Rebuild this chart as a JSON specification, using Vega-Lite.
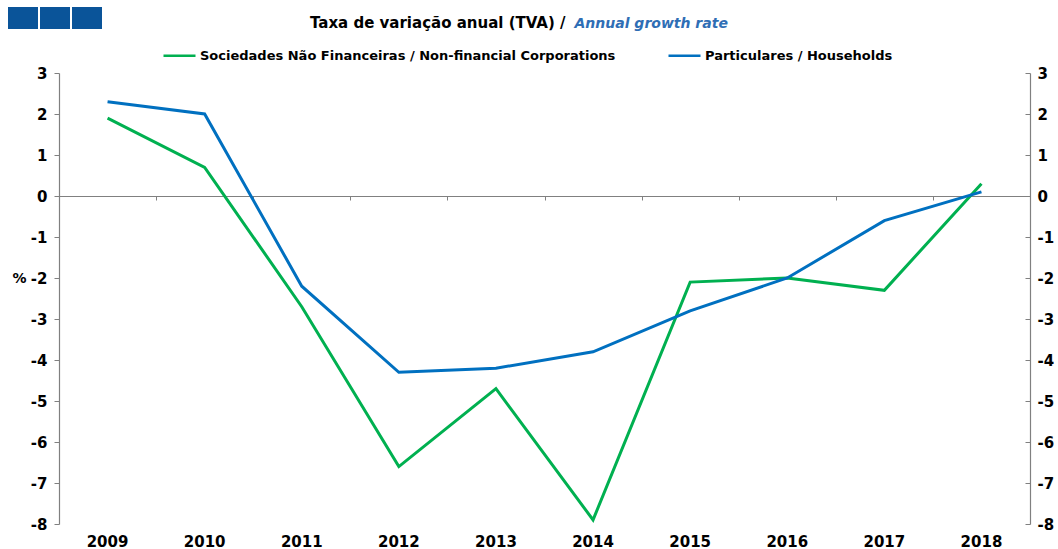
{
  "$schema": "https://vega.github.io/schema/vega-lite/v6.json",
  "width": 971,
  "height": 451,
  "autosize": {"type": "none"},
  "padding": {"left": 59, "top": 73, "right": 28, "bottom": 25},
  "background": "white",
  "config": {"view": {"stroke": null}, "font": "DejaVu Sans"},
  "title": {
    "text": "Taxa de variação anual (TVA) /",
    "anchor": "start",
    "frame": "group",
    "dx": 251,
    "dy": 32,
    "font": "DejaVu Sans",
    "fontSize": 15,
    "fontWeight": "bold",
    "color": "black"
  },
  "data": {
    "values": [
      {"year": "2009", "series": "Sociedades Não Financeiras / Non-financial Corporations", "value": 1.9},
      {"year": "2010", "series": "Sociedades Não Financeiras / Non-financial Corporations", "value": 0.7},
      {"year": "2011", "series": "Sociedades Não Financeiras / Non-financial Corporations", "value": -2.7},
      {"year": "2012", "series": "Sociedades Não Financeiras / Non-financial Corporations", "value": -6.6},
      {"year": "2013", "series": "Sociedades Não Financeiras / Non-financial Corporations", "value": -4.7},
      {"year": "2014", "series": "Sociedades Não Financeiras / Non-financial Corporations", "value": -7.9},
      {"year": "2015", "series": "Sociedades Não Financeiras / Non-financial Corporations", "value": -2.1},
      {"year": "2016", "series": "Sociedades Não Financeiras / Non-financial Corporations", "value": -2.0},
      {"year": "2017", "series": "Sociedades Não Financeiras / Non-financial Corporations", "value": -2.3},
      {"year": "2018", "series": "Sociedades Não Financeiras / Non-financial Corporations", "value": 0.3},
      {"year": "2009", "series": "Particulares / Households", "value": 2.3},
      {"year": "2010", "series": "Particulares / Households", "value": 2.0},
      {"year": "2011", "series": "Particulares / Households", "value": -2.2},
      {"year": "2012", "series": "Particulares / Households", "value": -4.3},
      {"year": "2013", "series": "Particulares / Households", "value": -4.2},
      {"year": "2014", "series": "Particulares / Households", "value": -3.8},
      {"year": "2015", "series": "Particulares / Households", "value": -2.8},
      {"year": "2016", "series": "Particulares / Households", "value": -2.0},
      {"year": "2017", "series": "Particulares / Households", "value": -0.6},
      {"year": "2018", "series": "Particulares / Households", "value": 0.1}
    ]
  },
  "layer": [
    {
      "mark": {"type": "line", "strokeWidth": 3},
      "encoding": {
        "x": {
          "field": "year",
          "type": "ordinal",
          "scale": {"type": "band", "paddingInner": 0, "paddingOuter": 0},
          "axis": {
            "orient": "bottom",
            "offset": -328,
            "labels": false,
            "domain": true,
            "domainColor": "#808080",
            "domainWidth": 1.2,
            "ticks": true,
            "tickBand": "extent",
            "tickSize": 4,
            "tickColor": "#808080",
            "grid": false,
            "title": "Annual growth rate",
            "titleColor": "#2F6EB5",
            "titleFont": "DejaVu Sans",
            "titleFontSize": 14,
            "titleFontStyle": "italic",
            "titleFontWeight": "bold",
            "titleAlign": "left",
            "titleBaseline": "alphabetic",
            "titleX": 515,
            "titleY": -169
          }
        },
        "y": {
          "field": "value",
          "type": "quantitative",
          "scale": {"domain": [-8, 3], "nice": false, "zero": false},
          "axis": {
            "orient": "left",
            "values": [-8, -7, -6, -5, -4, -3, -2, -1, 0, 1, 2, 3],
            "labelExpr": "datum.value < 0 ? '-' + abs(datum.value) : datum.label",
            "grid": false,
            "domainColor": "#808080",
            "domainWidth": 1.2,
            "tickColor": "#808080",
            "tickSize": 5,
            "labelFont": "DejaVu Sans",
            "labelFontSize": 15,
            "labelFontWeight": "bold",
            "labelColor": "black",
            "labelPadding": 7,
            "title": "%",
            "titleAngle": 0,
            "titleFont": "DejaVu Sans",
            "titleFontSize": 14,
            "titleFontWeight": "bold",
            "titleColor": "black",
            "titleAlign": "center",
            "titleBaseline": "middle",
            "titleX": -40,
            "titleY": 205
          }
        },
        "color": {
          "field": "series",
          "type": "nominal",
          "scale": {
            "domain": ["Sociedades Não Financeiras / Non-financial Corporations", "Particulares / Households"],
            "range": ["#00B050", "#0070C0"]
          },
          "legend": {
            "orient": "none",
            "legendX": 103,
            "legendY": -35,
            "direction": "horizontal",
            "title": null,
            "symbolType": "stroke",
            "symbolSize": 1024,
            "symbolStrokeWidth": 2.5,
            "labelFont": "DejaVu Sans",
            "labelFontSize": 13,
            "labelFontWeight": "bold",
            "labelColor": "black",
            "labelOffset": 3,
            "labelLimit": 600,
            "columnPadding": 47
          }
        }
      }
    },
    {
      "mark": {"type": "point", "opacity": 0, "filled": true},
      "encoding": {
        "x": {
          "field": "year",
          "type": "ordinal",
          "axis": {
            "orient": "bottom",
            "domain": false,
            "ticks": false,
            "grid": false,
            "labelAngle": 0,
            "labelFont": "DejaVu Sans",
            "labelFontSize": 15,
            "labelFontWeight": "bold",
            "labelColor": "black",
            "labelPadding": 10,
            "title": null
          }
        },
        "y": {
          "field": "value",
          "type": "quantitative",
          "axis": {
            "orient": "right",
            "values": [-8, -7, -6, -5, -4, -3, -2, -1, 0, 1, 2, 3],
            "labelExpr": "datum.value < 0 ? '-' + abs(datum.value) : datum.label",
            "grid": false,
            "domainColor": "#808080",
            "domainWidth": 1.2,
            "tickColor": "#808080",
            "tickSize": -5,
            "labelFont": "DejaVu Sans",
            "labelFontSize": 15,
            "labelFontWeight": "bold",
            "labelColor": "black",
            "labelPadding": 12,
            "title": null
          }
        },
        "fill": {
          "field": "year",
          "type": "nominal",
          "scale": {"range": ["#0A5499"]},
          "legend": {
            "orient": "none",
            "legendX": -51,
            "legendY": -70,
            "direction": "horizontal",
            "title": null,
            "values": ["2009", "2010", "2011"],
            "labelExpr": "''",
            "labelOffset": 0,
            "symbolType": "M-1,-0.733H1V0.733H-1Z",
            "symbolSize": 900,
            "symbolOpacity": 1,
            "symbolStrokeWidth": 0,
            "columnPadding": 2,
            "padding": 0
          }
        }
      }
    }
  ],
  "resolve": {"axis": {"x": "independent", "y": "independent"}}
}
